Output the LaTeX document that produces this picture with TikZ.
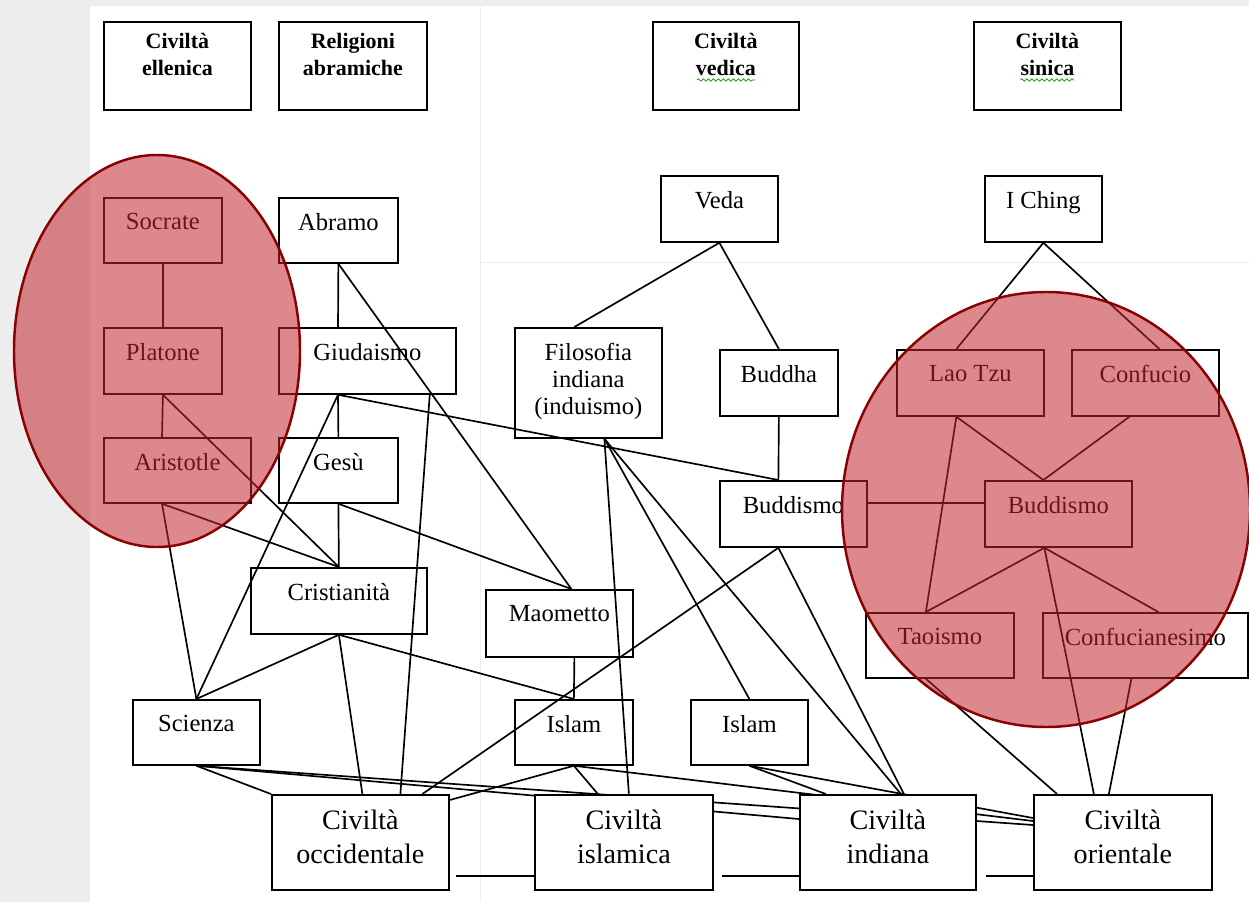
\documentclass[tikz,border=0pt]{standalone}
\usepackage{fontspec}
\setmainfont{Liberation Serif}
\usetikzlibrary{calc,backgrounds,decorations.pathmorphing}

\def\unitpx{0.2mm}

\tikzset{
  wh/.style 2 args={minimum width=#1*\unitpx, minimum height=#2*\unitpx},
  box/.style={draw, line width=1pt, anchor=north west, inner sep=0pt,
    label={[boxtext]north:#1}},
  boxtext/.style={anchor=north, inner sep=0pt, yshift=-9pt, align=center,
    font=\fontsize{14}{15.4}\selectfont},
  head/.style={draw, line width=1pt, anchor=north west, inner sep=0pt,
    label={[headtext]north:#1}},
  headtext/.style={anchor=north, inner sep=0pt, yshift=-7pt, align=center,
    font=\fontsize{12.5}{15.4}\selectfont\bfseries},
  civ/.style={draw, fill=white, line width=1pt, anchor=north west, inner sep=0pt,
    label={[civtext]north:#1}},
  civtext/.style={anchor=north, inner sep=0pt, yshift=-9pt, align=center,
    font=\fontsize{16}{19.3}\selectfont},
  link/.style={line width=0.95pt},
  seam/.style={black!7, line width=0.4pt},
  squiggle/.style={decorate, decoration={snake, segment length=1mm, amplitude=0.25mm},
    green!60!black, line width=0.4pt},
  circled/.style={draw={rgb,255:red,139;green,0;blue,0}, line width=1.4pt,
    fill={rgb,255:red,192;green,40;blue,48}, fill opacity=0.55},
}

\begin{document}
\begin{tikzpicture}[x=0.2mm, y=-0.2mm]
  \useasboundingbox (0,0) rectangle (1249,902);

  % headers
  \node[head={Civiltà\\ellenica}, wh={147}{88}] (hel) at (103,21) {};
  \node[head={Religioni\\abramiche}, wh={148}{88}] (rel) at (278,21) {};
  \node[head={Civiltà\\vedica}, wh={146}{88}] (ved) at (652,21) {};
  \node[head={Civiltà\\sinica}, wh={147}{88}] (sin) at (973,21) {};
  \draw[squiggle] ($(ved.north)+(-29,59)$) -- ($(ved.north)+(29,59)$);
  \draw[squiggle] ($(sin.north)+(-27,59)$) -- ($(sin.north)+(27,59)$);

  % greek
  \node[box=Socrate, wh={118}{65}] (soc) at (103,197) {};
  \node[box=Platone, wh={118}{66}] (pla) at (103,327) {};
  \node[box=Aristotle, wh={147}{65}] (ari) at (103,437) {};

  % abrahamic
  \node[box=Abramo, wh={119}{65}] (abr) at (278,197) {};
  \node[box=Giudaismo, wh={177}{66}] (giu) at (278,327) {};
  \node[box=Gesù, wh={119}{65}] (ges) at (278,437) {};
  \node[box=Cristianità, wh={176}{66}] (cri) at (250,567) {};
  \node[box=Maometto, wh={147}{67}] (mao) at (485,589) {};
  \node[box=Scienza, wh={127}{65}] (sci) at (132,699) {};
  \node[box=Islam, wh={118}{65}] (isa) at (514,699) {};

  % vedic
  \node[box=Veda, wh={117}{66}] (vda) at (660,175) {};
  \node[box={Filosofia\\indiana\\(induismo)}, wh={147}{110}] (fil) at (514,327) {};
  \node[box=Buddha, wh={118}{66}] (bha) at (719,349) {};
  \node[box=Buddismo, wh={147}{66}] (bud) at (719,480) {};
  \node[box=Islam, wh={117}{65}] (isb) at (690,699) {};

  % sinic
  \node[box={I Ching}, wh={117}{66}] (ich) at (984,175) {};
  \node[box={Lao Tzu}, wh={147}{66}] (lao) at (896,349) {};
  \node[box=Confucio, wh={147}{66}] (cfc) at (1071,349) {};
  \node[box=Buddismo, wh={147}{66}] (bdc) at (984,480) {};
  \node[box=Taoismo, wh={148}{65}] (tao) at (865,612) {};
  \node[box=Confucianesimo, wh={205}{65}] (cfn) at (1042,612) {};

  % civilizations
  \node[civ={Civiltà\\occidentale}, wh={177}{95}] (occ) at (271,794) {};
  \node[civ={Civiltà\\islamica}, wh={178}{95}] (isc) at (534,794) {};
  \node[civ={Civiltà\\indiana}, wh={176}{95}] (ind) at (799,794) {};
  \node[civ={Civiltà\\orientale}, wh={178}{95}] (ori) at (1033,794) {};

  \begin{scope}[on background layer]
    \fill[black!7] (0,0) rectangle (1249,902);
    \fill[white] (90,6) rectangle (1249,902);
    \draw[seam] (480,6) -- (480,902) (480,262) -- (1249,262);

    % greek
    \coordinate (ari-s) at ($(ari.south west)+(59,0)$);
    \draw[link] (soc.south) -- (pla.north);
    \draw[link] (pla.south) -- ($(ari.north west)+(59,0)$);
    \draw[link] (pla.south) -- (cri.north);
    \draw[link] (ari-s) -- (cri.north);
    \draw[link] (ari-s) -- (sci.north);

    % abrahamic
    \coordinate (giu-s) at ($(giu.south west)+(60,0)$);
    \draw[link] (abr.south) -- ($(giu.north west)+(60,0)$);
    \draw[link] (abr.south) -- ($(mao.north)+(12,0)$);
    \draw[link] (giu-s) -- (ges.north);
    \draw[link] (giu-s) -- (sci.north);
    \draw[link] (giu-s) -- ($(bud.north)+(-15,0)$);
    \draw[link] ($(giu.south east)+(-27,0)$) -- ($(occ.north)+(40,0)$);
    \draw[link] (ges.south) -- (cri.north);
    \draw[link] (ges.south) -- ($(mao.north)+(12,0)$);
    \draw[link] (cri.south) -- (sci.north);
    \draw[link] (cri.south) -- ($(occ.north)+(2,0)$);
    \draw[link] (cri.south) -- (isa.north);
    \draw[link] ($(mao.south)+(15,0)$) -- (isa.north);

    % vedic
    \coordinate (fil-s) at ($(fil.south)+(16,0)$);
    \coordinate (bud-s) at ($(bud.south)+(-15,0)$);
    \draw[link] (vda.south) -- ($(fil.north)+(-14,0)$);
    \draw[link] (vda.south) -- (bha.north);
    \draw[link] (bha.south) -- ($(bud.north)+(-15,0)$);
    \draw[link] ($(bud.east)+(0,-11)$) -- ($(bdc.west)+(0,-11)$);
    \draw[link] (fil-s) -- ($(isc.north)+(5,0)$);
    \draw[link] (fil-s) -- (isb.north);
    \draw[link] (fil-s) -- ($(ind.north)+(13,0)$);
    \draw[link] (bud-s) -- ($(occ.north)+(62,0)$);
    \draw[link] (bud-s) -- ($(ind.north)+(16,0)$);

    % sinic
    \coordinate (lao-s) at ($(lao.south)+(-14,0)$);
    \coordinate (bdc-s) at ($(bdc.south)+(-14,0)$);
    \draw[link] (ich.south) -- ($(lao.north)+(-14,0)$);
    \draw[link] (ich.south) -- ($(cfc.north)+(14,0)$);
    \draw[link] (lao-s) -- ($(bdc.north)+(-15,0)$);
    \draw[link] ($(cfc.south)+(-16,0)$) -- ($(bdc.north)+(-15,0)$);
    \draw[link] (lao-s) -- ($(tao.north)+(-14,0)$);
    \draw[link] (bdc-s) -- ($(tao.north)+(-14,0)$);
    \draw[link] (bdc-s) -- ($(cfn.north)+(13,0)$);
    \draw[link] (bdc-s) -- ($(ori.north)+(-29,0)$);
    \draw[link] ($(tao.south)+(-14,0)$) -- ($(ori.north west)+(24,0)$);
    \draw[link] ($(cfn.south)+(-14,0)$) -- ($(ori.north)+(-14,0)$);

    % into the civilizations
    \draw[link] (sci.south) -- (occ.north west);
    \draw[link] (sci.south) -- ($(ind.north west)+(0,25)$);
    \draw[link] (sci.south) -- ($(ori.north west)+(0,31)$);
    \draw[link] (isa.south) -- ($(occ.north east)+(0,6)$);
    \draw[link] (isa.south) -- ($(isc.north)+(-26,0)$);
    \draw[link] (isa.south) -- ($(ori.north west)+(0,27)$);
    \draw[link] (isb.south) -- ($(ind.north)+(-62,0)$);
    \draw[link] (isb.south) -- ($(ori.north west)+(0,24)$);
    \draw[link] ($(occ.south east)+(6,-15)$) -- ($(isc.south west)+(0,-15)$);
    \draw[link] ($(isc.south east)+(8,-15)$) -- ($(ind.south west)+(0,-15)$);
    \draw[link] ($(ind.south east)+(9,-15)$) -- ($(ori.south west)+(0,-15)$);
  \end{scope}

  % highlighted groups
  \draw[circled] (157,351) ellipse [x radius=28.6mm, y radius=39.2mm];
  \draw[circled] (1046,509.5) ellipse [x radius=40.8mm, y radius=43.5mm];
\end{tikzpicture}
\end{document}
